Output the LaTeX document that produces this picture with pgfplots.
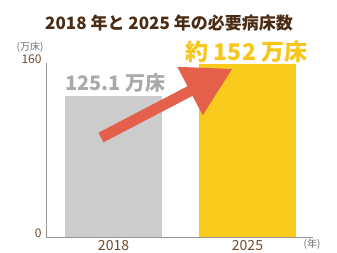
\documentclass[border=0pt]{standalone}
\usepackage{pgfplots}
\pgfplotsset{compat=1.18}
\usepackage{fontspec}
\setmainfont{Noto Sans CJK JP}
\definecolor{titlebrown}{RGB}{74,44,20}
\definecolor{tickbrown}{RGB}{110,75,48}
\definecolor{unitgray}{RGB}{110,110,110}
\definecolor{bargray}{RGB}{204,204,204}
\definecolor{txtgray}{RGB}{170,170,170}
\definecolor{baryellow}{RGB}{249,203,28}
\definecolor{txtyellow}{RGB}{248,198,26}
\definecolor{arrowred}{RGB}{229,96,74}
\definecolor{axisgray}{RGB}{150,150,150}
\begin{document}
\begin{tikzpicture}
\useasboundingbox (0,0) rectangle (337bp,253bp);
\begin{axis}[
  at={(46bp,16bp)}, anchor=south west,
  scale only axis, width=267bp, height=174bp,
  xmin=-0.504, xmax=1.489, ymin=0, ymax=160,
  axis lines=left,
  axis line style={draw=axisgray, line width=0.8bp, -},
  ybar, bar width=0.724, bar shift=0pt,
  xtick={0,1}, xticklabels={2018,2025},
  ytick={0,160},
  major tick length=0pt,
  /pgf/number format/assume math mode=true,
  xticklabel style={font=\fontsize{14bp}{16bp}\selectfont, text=tickbrown, anchor=center, yshift=-9bp},
  yticklabel style={font=\fontsize{12bp}{14bp}\selectfont, text=tickbrown, anchor=east, xshift=-1bp, yshift=4bp},
  clip=false,
]
\addplot[fill=bargray, draw=none] coordinates {(0,129.7)};
\addplot[fill=baryellow, draw=none] coordinates {(1,159)};
\end{axis}
\fill[arrowred] (103.5bp,110.7bp) -- (98.5bp,120.3bp) -- (187.5bp,166.8bp) -- (177.3bp,186.2bp) -- (232bp,184bp) -- (202.7bp,137.8bp) -- (192.5bp,157.2bp) -- cycle;
\node[font=\fontsize{17bp}{20bp}\selectfont\bfseries, text=titlebrown, inner sep=0pt] at (169bp,230bp) {2018 年と 2025 年の必要病床数};
\node[font=\fontsize{10bp}{12bp}\selectfont, text=unitgray, inner sep=0pt] at (30bp,206bp) {(万床)};
\node[font=\fontsize{10bp}{12bp}\selectfont, text=unitgray, inner sep=0pt] at (312bp,9bp) {(年)};
\node[font=\fontsize{20bp}{24bp}\selectfont\bfseries, text=txtgray, inner sep=0pt] at (115.5bp,170bp) {125.1 万床};
\node[font=\fontsize{23bp}{27bp}\selectfont\bfseries, text=txtyellow, inner sep=0pt] at (246.5bp,201bp) {約 152 万床};
\end{tikzpicture}
\end{document}
